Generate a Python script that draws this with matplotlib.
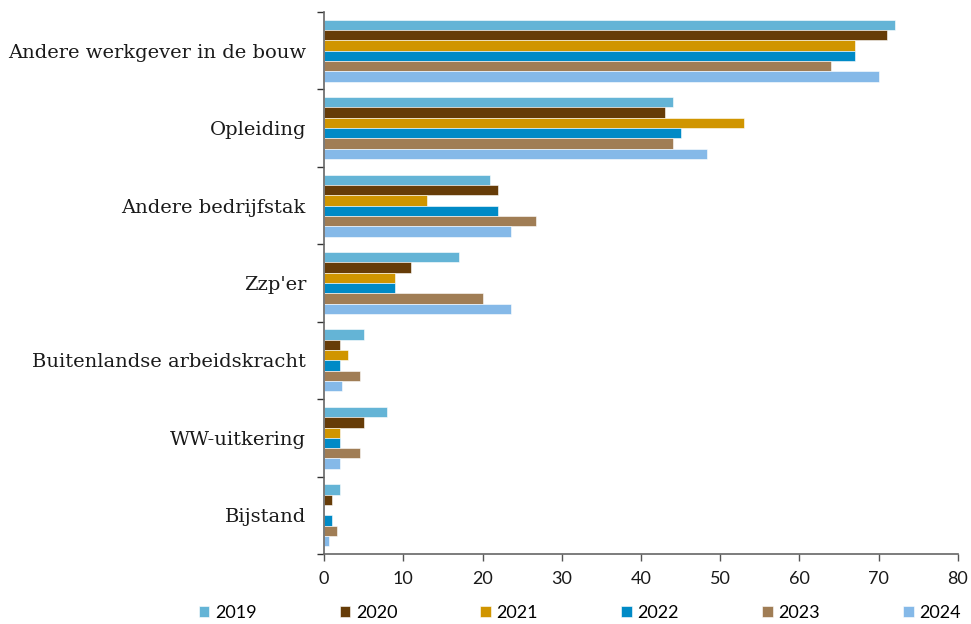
import matplotlib
matplotlib.use("Agg")
import matplotlib.pyplot as plt
import numpy as np

categories = ["Andere werkgever in de bouw", "Opleiding", "Andere bedrijfstak", "Zzp'er",
              "Buitenlandse arbeidskracht", "WW-uitkering", "Bijstand"]
years = ["2019", "2020", "2021", "2022", "2023", "2024"]
v2019 = [72, 44, 21, 17, 5, 8, 2]
v2020 = [71, 43, 22, 11, 2, 5, 1]
v2021 = [67, 53, 13, 9, 3, 2, 0]
v2022 = [67, 45, 22, 9, 2, 2, 1]
v2023 = [64, 44, 26.7, 20, 4.6, 4.6, 1.6]
v2024 = [70, 48.3, 23.6, 23.6, 2.3, 2, 0.6]
colors = ["#64b4d6", "#663c08", "#d09500", "#008ac6", "#a07d55", "#85b9e8"]

series = [v2019, v2020, v2021, v2022, v2023, v2024]

fig = plt.figure(figsize=(9.71, 6.24), dpi=100)
ax = fig.add_axes([0.3337, 0.1122, 0.6529, 0.8686])

y = np.arange(len(categories))
h = 0.8 / len(series)
for j, (vals, c, yr) in enumerate(zip(series, colors, years)):
    ax.barh(y - 0.4 + (j + 0.5) * h, vals, height=h, color=c, label=yr,
            edgecolor="white", linewidth=0.4)

ax.set_ylim(len(categories) - 0.5, -0.5)
ax.set_xlim(0, 80)
ax.set_xticks(np.arange(0, 81, 10))
ax.set_yticks(y)
ax.set_yticklabels(categories, fontfamily="DejaVu Serif", fontsize=14, color="#1a1a1a")
ax.tick_params(axis="y", which="major", length=0, pad=13)
ax.set_yticks(np.arange(-0.5, len(categories), 1), minor=True)
ax.tick_params(axis="y", which="minor", length=5, width=1, color="#333333")
ax.tick_params(axis="x", length=5, width=1, color="#555555", labelsize=13, pad=7)
for lab in ax.get_xticklabels():
    lab.set_fontfamily("Lato")
    lab.set_color("#1a1a1a")

for s in ["top", "right"]:
    ax.spines[s].set_visible(False)
ax.spines["left"].set_color("#666666")
ax.spines["bottom"].set_color("#666666")
ax.spines["left"].set_linewidth(1.2)
ax.spines["bottom"].set_linewidth(1.2)

leg = fig.legend(loc="center", bbox_to_anchor=(0.597, 0.018), ncol=6, frameon=False,
                 handlelength=0.6, handleheight=0.6, handletextpad=0.3, columnspacing=4.6,
                 prop={"family": "Lato", "size": 13})

fig.savefig("out.png", dpi=100)
